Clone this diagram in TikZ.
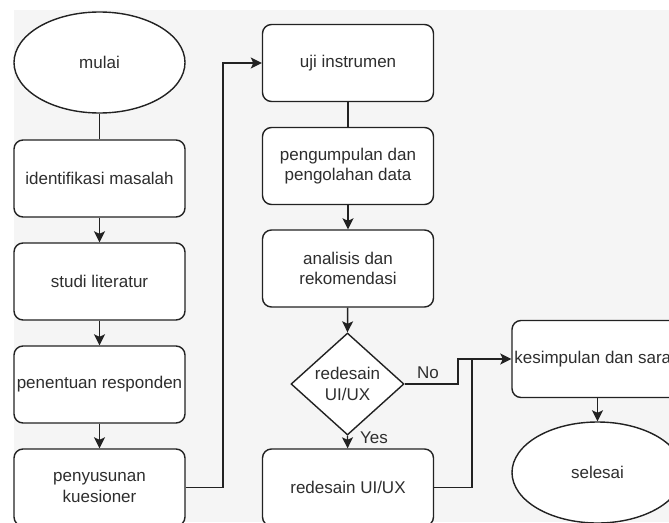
\documentclass[tikz,border=0pt]{standalone}
\usepackage{fontspec}
\setmainfont{Liberation Sans}
\usetikzlibrary{shapes.geometric,arrows.meta}
\definecolor{bg}{HTML}{F5F5F5}
\definecolor{ln}{HTML}{222222}
\definecolor{tx}{HTML}{2E2E2E}
\begin{document}
\begin{tikzpicture}[x=1pt,y=-1pt,line width=1.4pt,
  font=\fontsize{17}{20.4}\selectfont,
  box/.style={draw=ln,fill=white,rounded corners=9pt,minimum width=171pt,minimum height=77pt,inner sep=1pt,align=center,text=tx},
  term/.style={ellipse,draw=ln,fill=white,minimum width=171pt,minimum height=101pt,inner sep=0pt,text=tx},
  dec/.style={diamond,draw=ln,fill=white,minimum width=113pt,minimum height=102pt,inner sep=0pt,aspect=1.1,align=center,text=tx},
  conn/.style={draw=ln,line width=1.4pt},
  arr/.style={conn,-{Stealth[length=11pt,width=11pt,inset=2.5pt]}},
  lbl/.style={text=tx,inner sep=0pt}]
\useasboundingbox (0,0) rectangle (669,522);
\clip (0,0) rectangle (669,522);
\fill[bg] (14,10) rectangle (669,522);
% left column
\node[term] (mulai) at (99.5,62.5) {mulai};
\node[box] (ident) at (99.5,178.5) {identifikasi masalah};
\node[box] (studi) at (99.5,281.5) {studi literatur};
\node[box] (penentuan) at (99.5,384.5) {penentuan responden};
\node[box] (penyusunan) at (99.5,487.5) {penyusunan\\kuesioner};
% middle column
\node[box] (uji) at (348,63) {uji instrumen};
\node[box] (pengumpulan) at (348,166) {pengumpulan dan\\pengolahan data};
\node[box] (analisis) at (348,268.5) {analisis dan\\rekomendasi};
\node[dec] (dec) at (347.5,384) {redesain\\UI/UX};
\node[box] (redesain) at (348,487.5) {redesain UI/UX};
% right column
\node[box] (kesimpulan) at (597.5,359) {kesimpulan dan saran};
\node[term] (selesai) at (597.5,472.5) {selesai};
% coordinates
\coordinate (c1) at (223,487.5);
\coordinate (c2) at (223,63);
\coordinate (n1) at (458,384);
\coordinate (n2) at (458,359);
\coordinate (r1) at (472,487.5);
\coordinate (r2) at (472,359);
% connectors
\draw[conn] (mulai) -- (ident);
\draw[arr] (ident) -- (studi);
\draw[arr] (studi) -- (penentuan);
\draw[arr] (penentuan) -- (penyusunan);
\draw[arr] (penyusunan.east) -- (c1) -- (c2) -- (uji.west);
\draw[conn] (uji) -- (pengumpulan);
\draw[arr] (pengumpulan) -- (analisis);
\draw[arr] (analisis) -- (dec.north);
\draw[arr] (dec.south) -- (redesain);
\draw[arr] (dec.east) -- (n1) -- (n2) -- (kesimpulan.west);
\draw[conn] (redesain.east) -- (r1) -- (r2);
\draw[arr] (kesimpulan) -- (selesai);
% labels
\node[lbl] (no) at (428,373) {No};
\node[lbl] (yes) at (374,438) {Yes};
\end{tikzpicture}
\end{document}
